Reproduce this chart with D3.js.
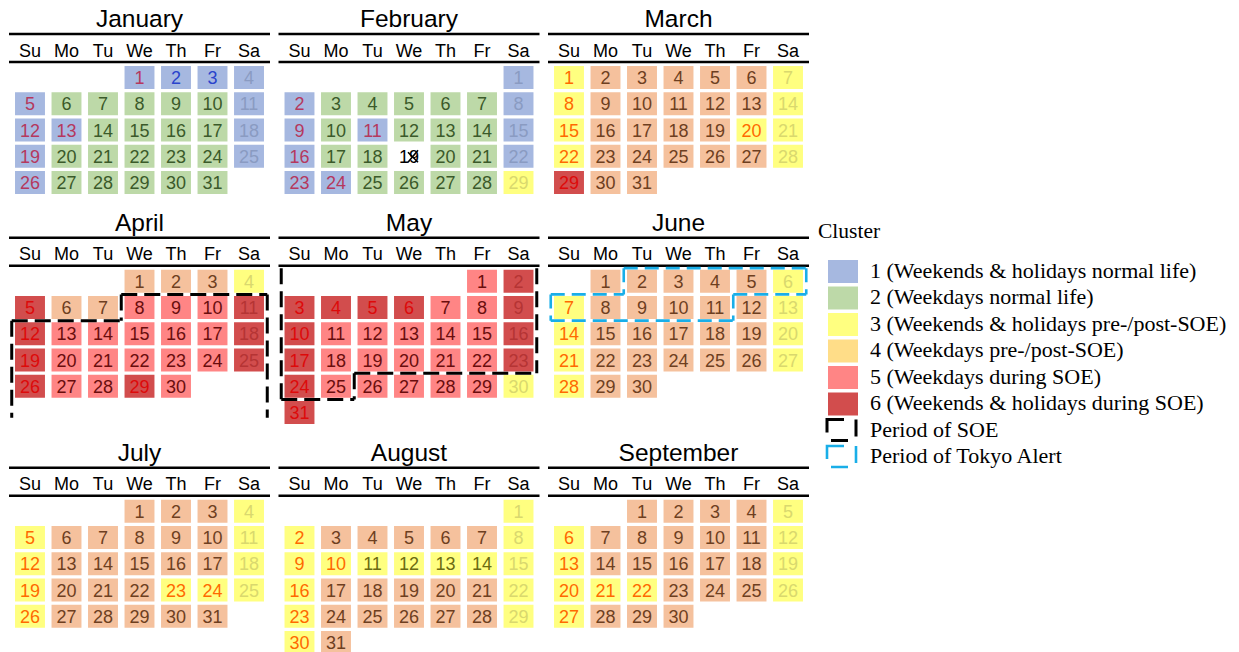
<!DOCTYPE html>
<html>
<head>
<meta charset="utf-8">
<script src="https://cdn.jsdelivr.net/npm/d3@7"></script>
<style>
  html, body { margin: 0; padding: 0; background: #fff; }
  svg { display: block; }
</style>
</head>
<body>
<svg id="chart" width="1239" height="652"></svg>
<script>
// ---------------- DATA ----------------
const year = 2020;
const monthNames = ["January","February","March","April","May","June","July","August","September"];
const weekdayLabels = ["Su","Mo","Tu","We","Th","Fr","Sa"];

// cluster per day (0 = missing data)
const janClusters = [1,1,1,1,1, 2,2,2,2,2, 1,1,1, 2,2,2,2, 1,1, 2,2,2,2,2, 1,1, 2,2,2,2,2];
const febClusters = [1,1, 2,2,2,2,2, 1,1, 2, 1, 2,2,2, 1,1, 2,2, 0, 2,2, 1,1,1, 2,2,2,2, 3];
const marClusters = [3, 4,4,4,4,4, 3,3, 4,4,4,4,4, 3,3, 4,4,4,4, 3,3,3, 4,4,4,4,4, 3, 6, 4,4];
const aprClusters = [4,4,4, 3, 6, 4,4, 5,5,5, 6,6, 5,5,5,5,5, 6,6, 5,5,5,5,5, 6,6, 5,5, 6, 5];
const mayClusters = [5, 6, 6,6,6,6, 5,5, 6,6, 5,5,5,5,5, 6,6, 5,5,5,5,5, 6,6, 5,5,5,5,5, 3, 6];
const junClusters = [4,4,4,4,4, 3,3, 4,4,4,4,4, 3,3, 4,4,4,4,4, 3,3, 4,4,4,4,4, 3,3, 4,4];
const julClusters = [4,4,4, 3,3, 4,4,4,4,4, 3,3, 4,4,4,4,4, 3,3, 4,4,4, 3,3,3,3, 4,4,4,4,4];
const augClusters = [3,3, 4,4,4,4,4, 3,3, 3,3,3,3,3, 3,3, 4,4,4,4,4, 3,3, 4,4,4,4,4, 3,3, 4];
const sepClusters = [4,4,4,4, 3,3, 4,4,4,4,4, 3,3, 4,4,4,4,4, 3,3,3,3, 4,4,4, 3,3, 4,4,4];
const monthClusters = [janClusters, febClusters, marClusters, aprClusters, mayClusters,
                       junClusters, julClusters, augClusters, sepClusters];

// national holidays (month-day) and special new-year days
const holidays = ["1-1","1-13","2-11","2-23","2-24","3-20","4-29","5-3","5-4","5-5","5-6",
                  "7-23","7-24","8-10","9-21","9-22"];
const specialDays = ["1-2","1-3"];

// periods
const soePeriod = ["2020-04-08", "2020-05-25"];
const alertPeriod = ["2020-06-02", "2020-06-11"];

const legendLabels = [
  "1 (Weekends & holidays normal life)",
  "2 (Weekdays normal life)",
  "3 (Weekends & holidays pre-/post-SOE)",
  "4 (Weekdays pre-/post-SOE)",
  "5 (Weekdays during SOE)",
  "6 (Weekends & holidays during SOE)"
];
const periodLabels = ["Period of SOE", "Period of Tokyo Alert"];

// ---------------- STYLE ----------------
const cellFill = {1:"#a6b8e0", 2:"#bdd9a8", 3:"#ffff80", 4:"#f5c19d", 5:"#ff8585", 6:"#d24d4d"};
const legendFill = ["#a6b8e0","#bdd9a8","#ffff80","#ffdd88","#ff8585","#d24d4d"];
const textColor = {
  1: {hol:"#b5385e", sat:"#8a9bc2", wd:"#3b5a2a", special:"#2a44cc"},
  2: {hol:"#b5385e", sat:"#8a9bc2", wd:"#3b5a2a", special:"#2a44cc"},
  3: {hol:"#ff6a00", sat:"#d9d86e", wd:"#6b6b12"},
  4: {hol:"#ff6a00", sat:"#d9d86e", wd:"#6e3f1f"},
  5: {hol:"#dd0a0a", sat:"#b53434", wd:"#6a0d0d"},
  6: {hol:"#dd0a0a", sat:"#b53434", wd:"#6a0d0d"}
};
const sans = "'Liberation Sans', Arial, Helvetica, sans-serif";
const serif = "'Liberation Serif', 'Times New Roman', serif";

// ---------------- LAYOUT ----------------
const blockW = 261, blockPitch = 269.5, blockX0 = 9;
const topLine0 = 34, headerH = 28, cellsOffset = 32, rowStep = 26.25, cellH = 23, rowGap = 72.5;

const svg = d3.select("#chart");
const parse = d3.timeParse("%Y-%m-%d");

const weeksIn = m => {
  const first = new Date(year, m, 1), last = new Date(year, m + 1, 0);
  return d3.timeWeek.count(d3.timeMonth(first), last) + 1;
};

const blockRows = [0,1,2].map(r => d3.max([0,1,2], c => weeksIn(r*3 + c)));
const topLines = [];
{
  let y = topLine0;
  blockRows.forEach(w => { topLines.push(y); y += w * rowStep + rowGap; });
}

const colBand = d3.scaleBand().domain(d3.range(7)).range([0, blockW]).paddingInner(0.18).paddingOuter(0.165);
const gapX = colBand.step() - colBand.bandwidth();
const gapY = rowStep - cellH;

function blockGeom(m) {
  const br = Math.floor(m / 3), bc = m % 3;
  const x0 = blockX0 + bc * blockPitch;
  const top = topLines[br];
  const x = c => x0 + colBand(c);
  const y = r => top + cellsOffset + r * rowStep;
  const xEdge = c => c < 7 ? x(c) - gapX / 2 : x(6) + colBand.bandwidth() + gapX / 2;
  const yEdge = r => y(r) - gapY / 2;
  return {x0, top, x, y, xEdge, yEdge, nRows: blockRows[br]};
}

// ---------------- MONTHS ----------------
monthNames.forEach((name, m) => {
  const g = blockGeom(m);
  const grp = svg.append("g");
  grp.append("text").attr("x", g.x0 + blockW / 2).attr("y", g.top - 6.7)
    .attr("text-anchor", "middle").attr("font-family", sans).attr("font-size", 24.5)
    .attr("fill", "#000").text(name);
  grp.append("line").attr("x1", g.x0).attr("x2", g.x0 + blockW).attr("y1", g.top).attr("y2", g.top)
    .attr("stroke", "#000").attr("stroke-width", 2.6);
  grp.append("line").attr("x1", g.x0).attr("x2", g.x0 + blockW).attr("y1", g.top + headerH).attr("y2", g.top + headerH)
    .attr("stroke", "#000").attr("stroke-width", 2.6);
  grp.selectAll("text.wd").data(weekdayLabels).join("text").attr("class", "wd")
    .attr("x", (d, i) => g.x(i) + colBand.bandwidth() / 2).attr("y", g.top + 22.5)
    .attr("text-anchor", "middle").attr("font-family", sans).attr("font-size", 18)
    .attr("fill", "#000").text(d => d);

  const days = monthClusters[m].map((cl, i) => {
    const date = new Date(year, m, i + 1);
    const key = (m + 1) + "-" + (i + 1);
    const dow = date.getDay();
    let type = "wd";
    if (specialDays.includes(key)) type = "special";
    else if (dow === 0 || holidays.includes(key)) type = "hol";
    else if (dow === 6) type = "sat";
    return {day: i + 1, cl, dow, row: d3.timeWeek.count(d3.timeMonth(date), date), type};
  });

  const cells = grp.selectAll("g.day").data(days).join("g").attr("class", "day");
  cells.filter(d => d.cl > 0).append("rect")
    .attr("x", d => g.x(d.dow)).attr("y", d => g.y(d.row))
    .attr("width", colBand.bandwidth()).attr("height", cellH)
    .attr("fill", d => cellFill[d.cl]);
  cells.filter(d => d.cl > 0).append("text")
    .attr("x", d => g.x(d.dow) + colBand.bandwidth() / 2).attr("y", d => g.y(d.row) + 18)
    .attr("text-anchor", "middle").attr("font-family", sans).attr("font-size", 18)
    .attr("fill", d => textColor[d.cl][d.type] || textColor[d.cl].wd).text(d => d.day);
  // missing-data day: number with a cross-out mark
  const miss = cells.filter(d => d.cl === 0);
  miss.append("text")
    .attr("x", d => g.x(d.dow) + colBand.bandwidth() / 2).attr("y", d => g.y(d.row) + 18)
    .attr("text-anchor", "middle").attr("font-family", sans).attr("font-size", 18)
    .attr("fill", "#000").text(d => d.day);
  miss.append("path")
    .attr("d", d => {
      const cx = g.x(d.dow) + colBand.bandwidth() / 2 + 5, cy = g.y(d.row) + 11.5;
      return `M${cx - 6},${cy - 4}L${cx + 4},${cy + 6}M${cx + 4},${cy - 6}L${cx - 6},${cy + 6}`;
    })
    .attr("stroke", "#000").attr("stroke-width", 1.6).attr("fill", "none");
});

// ---------------- PERIOD OUTLINES ----------------
function drawPeriod(period, color, dash, width) {
  const start = parse(period[0]), end = parse(period[1]);
  d3.timeMonths(d3.timeMonth(start), d3.timeDay.offset(end, 1)).forEach(mStart => {
    const m = mStart.getMonth();
    const g = blockGeom(m);
    const offset = mStart.getDay();
    const mEnd = d3.timeMonth.offset(mStart, 1);
    const openTop = start < mStart;
    const openBottom = end >= mEnd;
    const sIdx = openTop ? 0 : offset + start.getDate() - 1;
    const eIdx = openBottom ? g.nRows * 7 - 1 : offset + end.getDate() - 1;
    const inc = (r, c) => r >= 0 && c >= 0 && c < 7 && r < g.nRows && (r * 7 + c) >= sIdx && (r * 7 + c) <= eIdx;
    const hEdges = [], vEdges = [];
    for (let r = 0; r < g.nRows; r++) for (let c = 0; c < 7; c++) {
      if (!inc(r, c)) continue;
      if (!inc(r - 1, c) && !(openTop && r === 0)) hEdges.push({r, c});
      if (!inc(r + 1, c) && !(openBottom && r === g.nRows - 1)) hEdges.push({r: r + 1, c});
      if (!inc(r, c - 1)) vEdges.push({c, r});
      if (!inc(r, c + 1)) vEdges.push({c: c + 1, r});
    }
    const segs = [];
    d3.groups(hEdges, e => e.r).forEach(([r, es]) => {
      const cs = es.map(e => e.c).sort((a, b) => a - b);
      let s = cs[0], p = cs[0];
      cs.slice(1).concat([null]).forEach(c => {
        if (c !== null && c === p + 1) { p = c; return; }
        segs.push([g.xEdge(s), g.yEdge(r), g.xEdge(p + 1), g.yEdge(r)]);
        s = p = c;
      });
    });
    d3.groups(vEdges, e => e.c).forEach(([c, es]) => {
      const rs = es.map(e => e.r).sort((a, b) => a - b);
      let s = rs[0], p = rs[0];
      rs.slice(1).concat([null]).forEach(r => {
        if (r !== null && r === p + 1) { p = r; return; }
        // open-bottom sides stop a little short of the grid's end
        const yEnd = (openBottom && p === g.nRows - 1) ? g.yEdge(p + 1) - 8 : g.yEdge(p + 1);
        segs.push([g.xEdge(c), g.yEdge(s), g.xEdge(c), yEnd]);
        s = p = r;
      });
    });
    svg.append("g").selectAll("line").data(segs).join("line")
      .attr("x1", d => d[0]).attr("y1", d => d[1]).attr("x2", d => d[2]).attr("y2", d => d[3])
      .attr("stroke", color).attr("stroke-width", width).attr("stroke-dasharray", dash)
      .attr("fill", "none");
  });
}
drawPeriod(soePeriod, "#000", "16,7", 3);
drawPeriod(alertPeriod, "#19aee8", "14,7", 2.6);

// ---------------- LEGEND ----------------
const lg = svg.append("g");
lg.append("text").attr("x", 818).attr("y", 238).attr("font-family", serif).attr("font-size", 21.5)
  .attr("fill", "#000").text("Cluster");
const legY = d3.scaleLinear().domain([0, 1]).range([260, 286.5]);
lg.selectAll("rect.sw").data(legendLabels).join("rect").attr("class", "sw")
  .attr("x", 828).attr("y", (d, i) => legY(i)).attr("width", 30).attr("height", 23)
  .attr("fill", (d, i) => legendFill[i]);
lg.selectAll("text.lab").data(legendLabels.concat(periodLabels)).join("text").attr("class", "lab")
  .attr("x", 870).attr("y", (d, i) => legY(i) + 17.5)
  .attr("font-family", serif).attr("font-size", 22).attr("fill", "#000").text(d => d);
const periodStyles = [{c:"#000", w:3}, {c:"#19aee8", w:2.6}];
lg.selectAll("rect.pd").data(periodStyles).join("rect").attr("class", "pd")
  .attr("x", 827).attr("y", (d, i) => legY(6 + i) + 0.5).attr("width", 29).attr("height", 21)
  .attr("fill", "none").attr("stroke", d => d.c).attr("stroke-width", d => d.w)
  .attr("stroke-dasharray", "17,12");
</script>
</body>
</html>
